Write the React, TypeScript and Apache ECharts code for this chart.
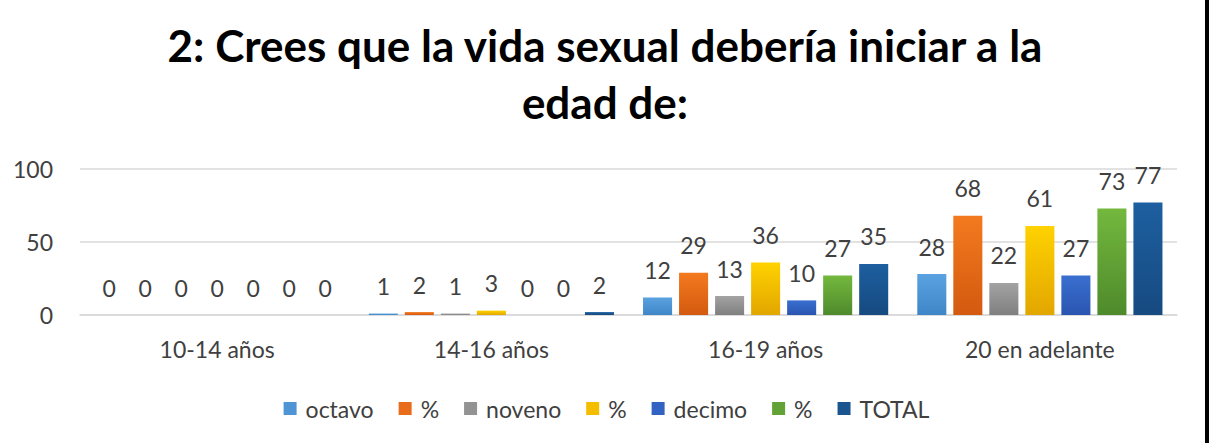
import React, { useEffect, useRef } from "react";
import * as echarts from "echarts";

const categories = ["10-14 años", "14-16 años", "16-19 años", "20 en adelante"];
const seriesKeys = ["octavo", "pct1", "noveno", "pct2", "decimo", "pct3", "TOTAL"];
const seriesLabels = ["octavo", "%", "noveno", "%", "decimo", "%", "TOTAL"];
const octavo = [0, 1, 12, 28];
const pctOctavo = [0, 2, 29, 68];
const noveno = [0, 1, 13, 22];
const pctNoveno = [0, 3, 36, 61];
const decimo = [0, 0, 10, 27];
const pctDecimo = [0, 0, 27, 73];
const total = [0, 2, 35, 77];
const yTicks = [0, 50, 100];

const seriesData = [octavo, pctOctavo, noveno, pctNoveno, decimo, pctDecimo, total];
const colorsTop = ["#5aa2e0", "#f47a1f", "#a3a3a3", "#ffd200", "#3a6fd0", "#74b83e", "#1d5fa0"];
const colorsBottom = ["#3f86c8", "#d35a0f", "#7f7f7f", "#e2a600", "#2a55b0", "#4e8a2b", "#164a80"];
const legendColors = ["#4f95d6", "#e86c1a", "#939393", "#f5bd00", "#3262c2", "#62a236", "#1b5590"];

export default function App() {
  const ref = useRef<HTMLDivElement>(null);
  useEffect(() => {
    document.body.style.margin = "0";
    const chart = echarts.init(ref.current!, undefined, { renderer: "svg" });
    const font = "Lato";
    chart.setOption({
      animation: false,
      backgroundColor: "#ffffff",
      textStyle: { fontFamily: font },
      title: {
        text: "2: Crees que la vida sexual debería iniciar a la\nedad de:",
        left: 600,
        textAlign: "center",
        top: 11,
        textStyle: {
          fontFamily: font,
          fontSize: 44,
          fontWeight: "bold",
          color: "#000000",
          lineHeight: 57,
        },
      },
      legend: {
        data: seriesKeys.map((n, i) => ({ name: n, itemStyle: { color: legendColors[i] } })),
        formatter: (name: string) => seriesLabels[seriesKeys.indexOf(name)],
        bottom: 18,
        left: "center",
        itemWidth: 13,
        itemHeight: 13,
        itemGap: 25,
        icon: "rect",
        textStyle: { fontFamily: font, fontSize: 23, color: "#404040", padding: [0, 0, 0, 4] },
        selectedMode: false,
      },
      grid: { left: 80, right: 36, top: 169, bottom: 128 },
      xAxis: {
        type: "category",
        data: categories,
        axisLine: { show: true, lineStyle: { color: "#d9d9d9", width: 1.5 } },
        axisTick: { show: false },
        axisLabel: { fontFamily: font, fontSize: 23, color: "#404040", margin: 22 },
      },
      yAxis: {
        type: "value",
        min: 0,
        max: 100,
        interval: 50,
        axisLine: { show: false },
        axisTick: { show: false },
        splitLine: { lineStyle: { color: "#d9d9d9", width: 1.5 } },
        axisLabel: {
          fontFamily: font,
          fontSize: 23,
          color: "#404040",
          margin: 27,
          formatter: (v: number) => (yTicks.includes(v) ? String(v) : ""),
        },
      },
      series: seriesData.map((d, i) => ({
        name: seriesKeys[i],
        type: "bar",
        data: d,
        barGap: "24%",
        barCategoryGap: "10.6%",
        itemStyle: {
          color: new echarts.graphic.LinearGradient(0, 0, 0, 1, [
            { offset: 0, color: colorsTop[i] },
            { offset: 1, color: colorsBottom[i] },
          ]),
        },
        label: {
          show: true,
          position: "top",
          distance: 16,
          fontFamily: font,
          fontSize: 23,
          color: "#404040",
        },
      })),
      graphic: [
        {
          type: "rect",
          shape: { x: 1205, y: 0, width: 4, height: 443 },
          style: { fill: "#000000" },
        },
      ],
    });
    return () => chart.dispose();
  }, []);
  return <div ref={ref} style={{ width: 1213, height: 443 }} />;
}
